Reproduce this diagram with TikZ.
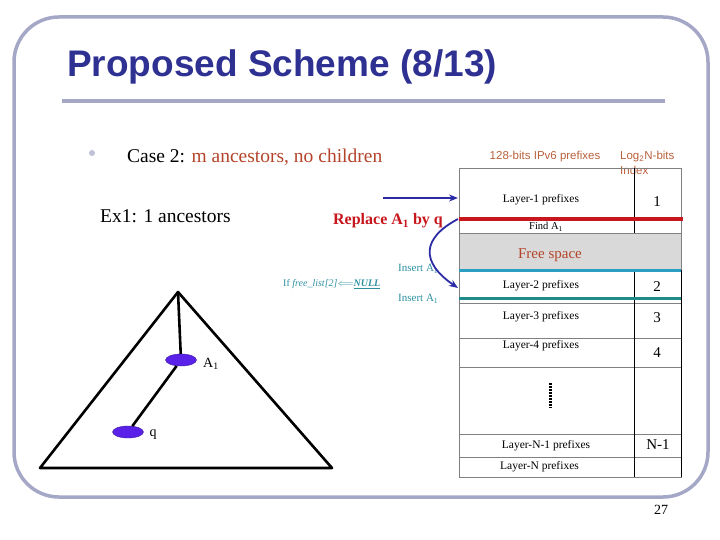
\documentclass[tikz,border=0pt]{standalone}
\usepackage{fontspec}
\setmainfont{Liberation Serif}
\setsansfont{Liberation Sans}
\usetikzlibrary{arrows.meta,positioning,calc,shapes.geometric}
\definecolor{framegray}{HTML}{A4A7C6}
\definecolor{titleblue}{HTML}{2E3192}
\definecolor{brownred}{HTML}{B4442A}
\definecolor{replred}{HTML}{C8161D}
\definecolor{insteal}{HTML}{2B8FA0}
\definecolor{freecyan}{HTML}{2A9FC2}
\definecolor{layerteal}{HTML}{1F8A8C}
\definecolor{arrowblue}{HTML}{2B2BA6}
\definecolor{nodeviolet}{HTML}{5A22E8}
\definecolor{hdrorange}{HTML}{B8603C}
\tikzset{
  cell/.style={font=\fontsize{11.5}{13}\selectfont, inner sep=0pt},
  idx/.style={font=\fontsize{15}{17}\selectfont, inner sep=0pt},
  hdr/.style={font=\sffamily\fontsize{11.5}{13}\selectfont, text=hdrorange, inner sep=0pt},
  note/.style={font=\fontsize{11}{13}\selectfont, text=insteal, inner sep=0pt},
  treenode/.style={ellipse, fill=nodeviolet, draw=nodeviolet!70!black, minimum width=31pt, minimum height=12pt, inner sep=0pt},
  edge/.style={-{Stealth[length=9pt,width=7pt]}, line width=1.8pt, draw=arrowblue},
  treeline/.style={line width=2.6pt, line join=round},
  gridline/.style={draw=gray, line width=0.8pt}
}

\begin{document}
\begin{tikzpicture}[x=1pt,y=-1pt]
\useasboundingbox (0,0) rectangle (720,540);
% slide frame and title
\draw[framegray, line width=3.5pt, rounded corners=45pt] (14,17) rectangle (708,497);
\node[anchor=west, font=\sffamily\bfseries\fontsize{37}{40}\selectfont, text=titleblue, inner sep=0pt] (title) at (67,67) {Proposed Scheme (8/13)};
\draw[framegray, line width=4pt] (62,101) -- (665,101);

% text lines
\node[circle, fill=framegray!70, minimum size=6pt, inner sep=0pt] (bul) at (92,153) {};
\node[anchor=west, font=\fontsize{19.5}{22}\selectfont, inner sep=0pt] (case) at (127,157) {Case 2: \textcolor{brownred}{m ancestors, no children}};
\node[anchor=west, font=\fontsize{19.5}{22}\selectfont, inner sep=0pt] (ex) at (100,216) {Ex1: 1 ancestors};
\node[font=\bfseries\fontsize{16}{18}\selectfont, text=replred, inner sep=0pt] (repl) at (388,221) {Replace A\textsubscript{1} by q};

% table headers
\node[hdr] (hprefix) at (545,157) {128-bits IPv6 prefixes};
\node[hdr, anchor=west] (hlog) at (620,157) {Log\textsubscript{2}N-bits};
\node[hdr, anchor=west] (hindex) at (620,170) {Index};

% table body
\fill[gray!30] (459,233) rectangle (681,270);
\draw[gridline] (459,168) rectangle (681,477);
\foreach \yy in {233,303,338,367,434,457}
  \draw[gridline] (459,\yy) -- (681,\yy);
\draw[black, line width=1pt] (634,168) -- (634,233);
\draw[black, line width=1pt] (634,270) -- (634,477);
\draw[black, line width=1pt] (681,270) -- (681,477);
\draw[replred, line width=3.5pt] (459,219) -- (683,219);
\draw[freecyan, line width=3pt] (459,270) -- (681,270);
\draw[layerteal, line width=3pt] (459,298) -- (681,298);

\node[cell] (l1) at (541,200) {Layer-1 prefixes};
\node[cell, font=\fontsize{10.5}{12}\selectfont] (find) at (546,227) {Find A\textsubscript{1}};
\node[font=\fontsize{15}{17}\selectfont, text=brownred, inner sep=0pt] (free) at (550,255) {Free space};
\node[cell] (l2) at (541,286) {Layer-2 prefixes};
\node[cell] (l3) at (541,317) {Layer-3 prefixes};
\node[cell] (l4) at (541,346) {Layer-4 prefixes};
\draw[line width=3pt, dash pattern=on 1.5pt off 1.5pt] (550,383) -- (550,408);
\node[cell] (lnm1) at (546,446) {Layer-N-1 prefixes};
\node[cell, anchor=west] (ln) at (500,467) {Layer-N prefixes};

\node[idx] (i1) at (657,202) {1};
\node[idx] (i2) at (657,287) {2};
\node[idx] (i3) at (657,318) {3};
\node[idx] (i4) at (657,353) {4};
\node[idx] (inm1) at (658,445) {N-1};

% insert notes
\node[note, anchor=west] (ins1) at (398,269) {Insert A\textsubscript{1}};
\node[note, anchor=west, font=\fontsize{10}{12}\selectfont] (cond) at (283,284) {If \textit{free\_list[2]}$\Longleftarrow$\underline{\textit{\textbf{NULL}}}};
\node[note, anchor=west] (ins2) at (398,299) {Insert A\textsubscript{1}};

% arrows into table
\coordinate (src) at (383,198);
\coordinate (l1in) at (458,198);
\coordinate (findin) at (458,219);
\coordinate (l2in) at (458,288);
\draw[edge] (src) -- (l1in);
\draw[edge] (findin) .. controls (422,238) and (420,262) .. (l2in);

% tree
\coordinate (apex) at (178,292);
\coordinate (bl) at (40,468);
\coordinate (br) at (332,468);
\draw[treeline] (bl) -- (apex) -- (br) -- cycle;
\node[treenode] (a1) at (181,360) {};
\node[treenode] (q) at (128,432) {};
\draw[treeline] (apex) -- (a1);
\draw[treeline] (a1) -- (q);
\node[font=\fontsize{14}{16}\selectfont, inner sep=0pt] (a1lbl) at (211,364) {A\textsubscript{1}};
\node[font=\fontsize{14}{16}\selectfont, inner sep=0pt] (qlbl) at (153,435) {q};

\node[font=\fontsize{14}{16}\selectfont, inner sep=0pt] (pgno) at (661,510) {27};
\end{tikzpicture}
\end{document}
